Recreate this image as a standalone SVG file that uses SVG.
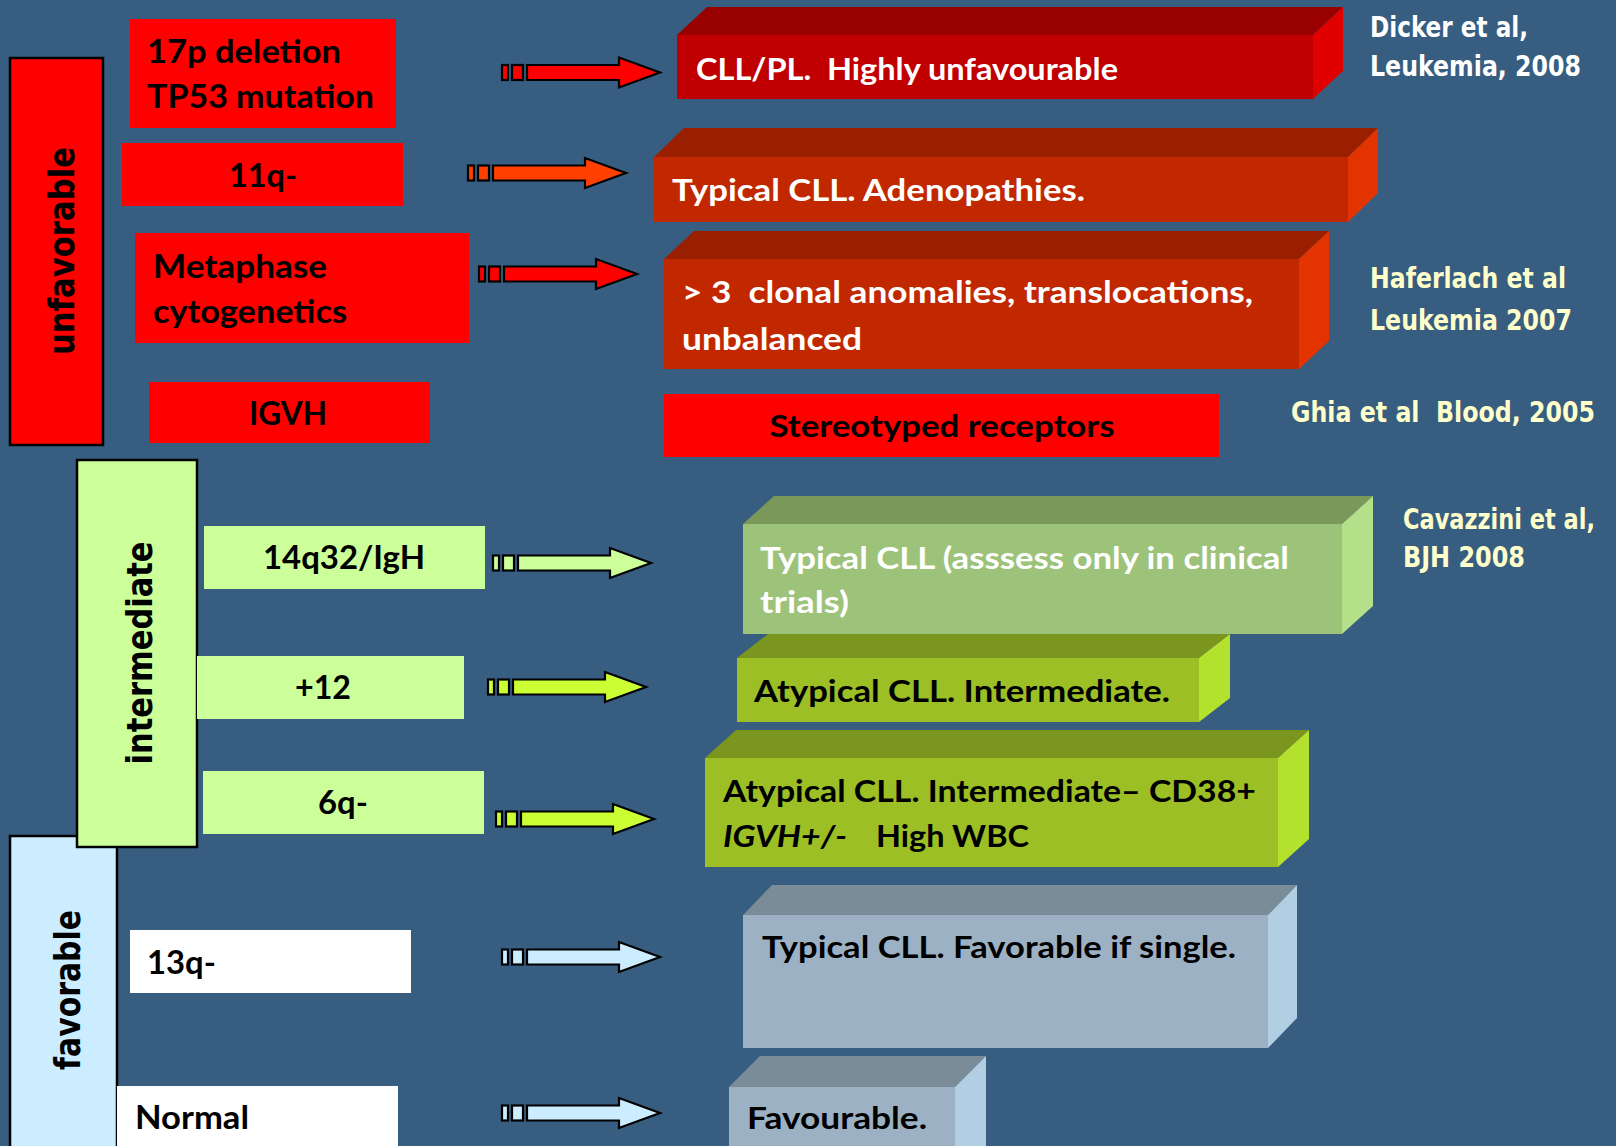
<svg xmlns="http://www.w3.org/2000/svg" xmlns:xlink="http://www.w3.org/1999/xlink" width="1616" height="1146" viewBox="0 0 1616 1146">
<style>
.lbl{font-family:Lato,"Open Sans","Liberation Sans",sans-serif;font-weight:bold;white-space:pre}
.l30{font-size:32px;fill:#000}
.r28{font-size:30.5px}
.w{fill:#FFFFFF}
.k{fill:#000000}
.cit{font-family:"DejaVu Sans Condensed","DejaVu Sans",sans-serif;font-weight:bold;font-size:27.5px;white-space:pre}
.cw{fill:#FFFFFF}
.cy{fill:#FFFFCC}
.cat{font-family:"DejaVu Sans Condensed","DejaVu Sans",sans-serif;font-weight:bold;font-size:35px;fill:#000}
.catbox{stroke:#000;stroke-width:2.5}
</style>
<defs>
<g id="arrow" stroke="#000" stroke-width="2.2">
<rect x="0" y="-7.5" width="6" height="15"/>
<rect x="10" y="-7.5" width="11" height="15"/>
<path d="M25,-7.5 H117 V-15 L158,0 L117,15 V7.5 H25 Z"/>
</g>
</defs>
<rect x="0" y="0" width="1616" height="1146" fill="#375E80"/>

<!-- category boxes -->
<g id="cat-unfavorable">
<rect class="catbox" x="10" y="58" width="93" height="387" fill="#FF0000"/>
<text class="cat" transform="translate(74,251) rotate(-90)" text-anchor="middle" textLength="208" lengthAdjust="spacingAndGlyphs">unfavorable</text>
</g>
<g id="cat-favorable">
<rect class="catbox" x="10" y="836" width="107" height="320" fill="#CCECFF"/>
<text class="cat" transform="translate(80,990) rotate(-90)" text-anchor="middle" textLength="160" lengthAdjust="spacingAndGlyphs">favorable</text>
</g>
<g id="cat-intermediate">
<rect class="catbox" x="77" y="460" width="120" height="387" fill="#CCFF99"/>
<text class="cat" transform="translate(152,653) rotate(-90)" text-anchor="middle" textLength="223" lengthAdjust="spacingAndGlyphs">intermediate</text>
</g>

<!-- left label boxes -->
<g id="n-17p">
<rect x="130" y="19" width="266" height="109" fill="#FF0000"/>
<text class="lbl l30" x="147" y="63" textLength="194" lengthAdjust="spacingAndGlyphs">17p deletion</text>
<text class="lbl l30" x="147" y="108" textLength="227" lengthAdjust="spacingAndGlyphs">TP53 mutation</text>
</g>
<g id="n-11q">
<rect x="122" y="143" width="281" height="63" fill="#FF0000"/>
<text class="lbl l30" x="263" y="187" text-anchor="middle" textLength="68" lengthAdjust="spacingAndGlyphs">11q-</text>
</g>
<g id="n-meta">
<rect x="135" y="233" width="334" height="110" fill="#FF0000"/>
<text class="lbl l30" x="153" y="278" textLength="174" lengthAdjust="spacingAndGlyphs">Metaphase</text>
<text class="lbl l30" x="153" y="323" textLength="194" lengthAdjust="spacingAndGlyphs">cytogenetics</text>
</g>
<g id="n-igvh">
<rect x="149" y="382" width="281" height="61" fill="#FF0000"/>
<text class="lbl l30" x="288" y="425" text-anchor="middle" textLength="78" lengthAdjust="spacingAndGlyphs">IGVH</text>
</g>
<g id="n-14q">
<rect x="204" y="526" width="281" height="63" fill="#CCFF99"/>
<text class="lbl l30" x="344" y="569" text-anchor="middle" textLength="162" lengthAdjust="spacingAndGlyphs">14q32/IgH</text>
</g>
<g id="n-12">
<rect x="197" y="656" width="267" height="63" fill="#CCFF99"/>
<text class="lbl l30" x="323" y="699" text-anchor="middle" textLength="56" lengthAdjust="spacingAndGlyphs">+12</text>
</g>
<g id="n-6q">
<rect x="203" y="771" width="281" height="63" fill="#CCFF99"/>
<text class="lbl l30" x="343" y="814" text-anchor="middle" textLength="50" lengthAdjust="spacingAndGlyphs">6q-</text>
</g>
<g id="n-13q">
<rect x="130" y="930" width="281" height="63" fill="#FFFFFF"/>
<text class="lbl l30" x="147" y="974" textLength="69" lengthAdjust="spacingAndGlyphs">13q-</text>
</g>
<g id="n-normal">
<rect x="117" y="1086" width="281" height="70" fill="#FFFFFF"/>
<text class="lbl l30" x="135" y="1129" textLength="114" lengthAdjust="spacingAndGlyphs">Normal</text>
</g>

<!-- connectors -->
<g id="connectors">
<use xlink:href="#arrow" href="#arrow" transform="translate(502,72.5)" fill="#FF0000"/>
<use xlink:href="#arrow" href="#arrow" transform="translate(468,173)" fill="#FF4000"/>
<use xlink:href="#arrow" href="#arrow" transform="translate(479,274)" fill="#FF0000"/>
<use xlink:href="#arrow" href="#arrow" transform="translate(493,563)" fill="#CCFF99"/>
<use xlink:href="#arrow" href="#arrow" transform="translate(488,687)" fill="#CCFF33"/>
<use xlink:href="#arrow" href="#arrow" transform="translate(496,819)" fill="#CCFF33"/>
<use xlink:href="#arrow" href="#arrow" transform="translate(502,957)" fill="#CCECFF"/>
<use xlink:href="#arrow" href="#arrow" transform="translate(502,1113)" fill="#CCECFF"/>
</g>

<!-- right 3D boxes -->
<g id="r-cllpl">
<polygon points="677,35 707,7 1343,7 1313,35" fill="#990000"/>
<polygon points="1313,35 1343,7 1343,71 1313,99" fill="#E10000"/>
<rect x="677" y="35" width="636" height="64" fill="#C00000"/>
<text class="lbl r28 w" x="696" y="80" textLength="422" lengthAdjust="spacingAndGlyphs">CLL/PL.  Highly unfavourable</text>
</g>
<g id="r-typical">
<polygon points="654,157 684,128 1378,128 1348,157" fill="#9A1F00"/>
<polygon points="1348,157 1378,128 1378,193 1348,222" fill="#E33300"/>
<rect x="654" y="157" width="694" height="65" fill="#C22800"/>
<text class="lbl r28 w" x="672" y="201" textLength="413" lengthAdjust="spacingAndGlyphs">Typical CLL. Adenopathies.</text>
</g>
<g id="r-clonal">
<polygon points="664,259 694,231 1329,231 1299,259" fill="#9A1F00"/>
<polygon points="1299,259 1329,231 1329,341 1299,369" fill="#E33300"/>
<rect x="664" y="259" width="635" height="110" fill="#C22800"/>
<text class="lbl r28 w" x="682" y="303" textLength="571" lengthAdjust="spacingAndGlyphs">&gt; 3  clonal anomalies, translocations,</text>
<text class="lbl r28 w" x="682" y="350" textLength="180" lengthAdjust="spacingAndGlyphs">unbalanced</text>
</g>
<g id="r-stereo">
<rect x="664" y="394" width="555" height="63" fill="#FF0000"/>
<text class="lbl r28 k" x="942" y="437" text-anchor="middle" textLength="345" lengthAdjust="spacingAndGlyphs">Stereotyped receptors</text>
</g>
<g id="r-atyp1">
<polygon points="737,658 768,634 1230,634 1199,658" fill="#7A961E"/>
<polygon points="1199,658 1230,634 1230,698 1199,722" fill="#B3E12E"/>
<rect x="737" y="658" width="462" height="64" fill="#9BBF24"/>
<text class="lbl r28 k" x="754" y="702" textLength="416" lengthAdjust="spacingAndGlyphs">Atypical CLL. Intermediate.</text>
</g>
<g id="r-typtrial">
<polygon points="743,524 774,496 1373,496 1342,524" fill="#7A985A"/>
<polygon points="1342,524 1373,496 1373,606 1342,634" fill="#B4E08A"/>
<rect x="743" y="524" width="599" height="110" fill="#9DC27A"/>
<text class="lbl r28 w" x="760" y="569" textLength="529" lengthAdjust="spacingAndGlyphs">Typical CLL (asssess only in clinical</text>
<text class="lbl r28 w" x="760" y="613" textLength="89" lengthAdjust="spacingAndGlyphs">trials)</text>
</g>
<g id="r-atyp2">
<polygon points="705,758 736,730 1309,730 1278,758" fill="#7A961E"/>
<polygon points="1278,758 1309,730 1309,839 1278,867" fill="#B3E12E"/>
<rect x="705" y="758" width="573" height="109" fill="#9BBF24"/>
<text class="lbl r28 k" x="723" y="802" textLength="533" lengthAdjust="spacingAndGlyphs">Atypical CLL. Intermediate– CD38+</text>
<text class="lbl r28 k" x="723" y="847" font-style="italic" textLength="124" lengthAdjust="spacingAndGlyphs">IGVH+/-</text>
<text class="lbl r28 k" x="876" y="847" textLength="153" lengthAdjust="spacingAndGlyphs">High WBC</text>
</g>
<g id="r-fav1">
<polygon points="743,915 772,885 1297,885 1268,915" fill="#7A8C98"/>
<polygon points="1268,915 1297,885 1297,1018 1268,1048" fill="#B2CEE2"/>
<rect x="743" y="915" width="525" height="133" fill="#9CB2C4"/>
<text class="lbl r28 k" x="762" y="958" textLength="474" lengthAdjust="spacingAndGlyphs">Typical CLL. Favorable if single.</text>
</g>
<g id="r-fav2">
<polygon points="729,1087 760,1056 986,1056 955,1087" fill="#7A8C98"/>
<polygon points="955,1087 986,1056 986,1160 955,1160" fill="#B2CEE2"/>
<rect x="729" y="1087" width="226" height="73" fill="#9CB2C4"/>
<text class="lbl r28 k" x="747" y="1129" textLength="180" lengthAdjust="spacingAndGlyphs">Favourable.</text>
</g>

<!-- citations -->
<g id="citations">
<text class="cit cw" x="1370" y="37" textLength="158" lengthAdjust="spacingAndGlyphs">Dicker et al,</text>
<text class="cit cw" x="1370" y="76" textLength="211" lengthAdjust="spacingAndGlyphs">Leukemia, 2008</text>
<text class="cit cy" x="1370" y="288" textLength="196" lengthAdjust="spacingAndGlyphs">Haferlach et al</text>
<text class="cit cy" x="1370" y="330" textLength="202" lengthAdjust="spacingAndGlyphs">Leukemia 2007</text>
<text class="cit cy" x="1291" y="422" textLength="304" lengthAdjust="spacingAndGlyphs">Ghia et al  Blood, 2005</text>
<text class="cit cy" x="1403" y="529" font-size="25" textLength="192" lengthAdjust="spacingAndGlyphs">Cavazzini et al,</text>
<text class="cit cy" x="1403" y="567" textLength="122" lengthAdjust="spacingAndGlyphs">BJH 2008</text>
</g>
</svg>
